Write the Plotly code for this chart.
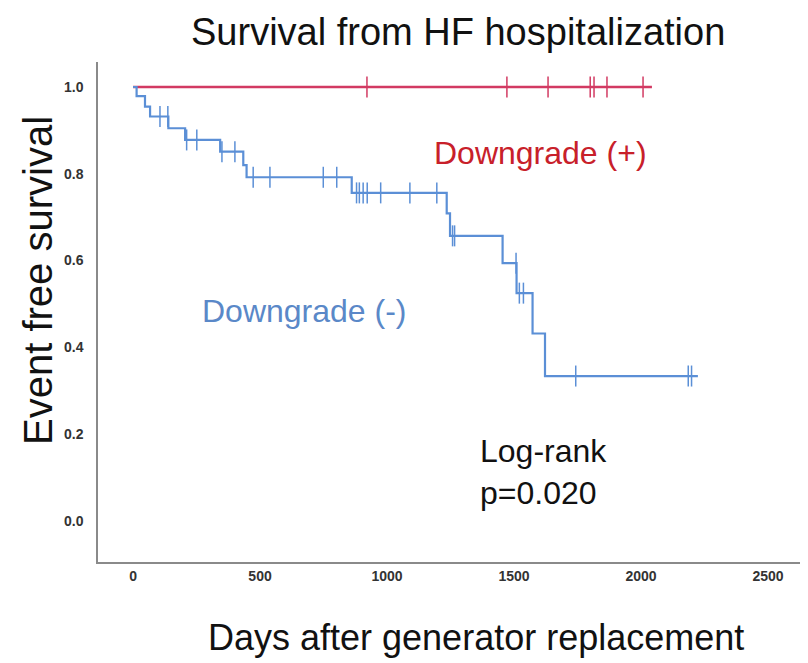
import plotly.graph_objects as go
import numpy as np

# ---- data ----
# Downgrade (-) group: step times (days) and survival after each step
neg_times = [0, 14, 47, 67, 139, 205, 343, 434, 447, 861, 1235, 1248, 1455, 1510, 1573, 1622, 2224]
neg_surv = [1.0, 0.979, 0.955, 0.932, 0.905, 0.878, 0.851, 0.820, 0.792, 0.756, 0.709, 0.657, 0.594, 0.525, 0.432, 0.334, 0.334]
neg_censor = [106, 137, 211, 251, 350, 401, 473, 539, 749, 802, 880, 891, 906, 922, 975, 1090, 1196,
              1258, 1266, 1508, 1521, 1537, 1743, 2186, 2199]

# Downgrade (+) group: no events
pos_times = [0, 2043]
pos_surv = [1.0, 1.0]
pos_censor = [921, 1472, 1634, 1800, 1815, 1866, 2008]

x_ticks = [0, 500, 1000, 1500, 2000, 2500]
y_ticks = [0.0, 0.2, 0.4, 0.6, 0.8, 1.0]

RED = "#d23a62"
BLUE = "#5b8fd6"


def surv_at(t, times, surv):
    idx = np.searchsorted(times, t, side="right") - 1
    return surv[max(idx, 0)]


fig = go.Figure()
fig.add_trace(go.Scatter(x=pos_times, y=pos_surv, mode="lines", line=dict(color=RED, width=2.5, shape="hv"),
                         showlegend=False, hoverinfo="skip"))
fig.add_trace(go.Scatter(x=pos_censor, y=[surv_at(t, pos_times, pos_surv) for t in pos_censor], mode="markers",
                         marker=dict(symbol="line-ns", size=15, line=dict(color=RED, width=1.5)),
                         showlegend=False, hoverinfo="skip"))
fig.add_trace(go.Scatter(x=neg_times, y=neg_surv, mode="lines", line=dict(color=BLUE, width=2.2, shape="hv"),
                         showlegend=False, hoverinfo="skip"))
fig.add_trace(go.Scatter(x=neg_censor, y=[surv_at(t, neg_times, neg_surv) for t in neg_censor], mode="markers",
                         marker=dict(symbol="line-ns", size=15, line=dict(color=BLUE, width=1.5)),
                         showlegend=False, hoverinfo="skip"))

FONT = "Liberation Sans, Arial, sans-serif"

# page has an 8px body margin: figure spans 8..808 x 8..663
fig.update_layout(
    width=800, height=655,
    margin=dict(l=90, r=8, t=54, b=101),
    paper_bgcolor="white", plot_bgcolor="white",
    font=dict(family=FONT, color="#000"),
    xaxis=dict(range=[-138, 2626], tickvals=x_ticks, ticktext=[str(v) for v in x_ticks],
               showgrid=False, zeroline=False, showline=True, linecolor="#8a8a8a", linewidth=1.5,
               ticks="", tickfont=dict(family=FONT, size=14, color="#333", weight="bold")),
    yaxis=dict(range=[-0.0945, 1.0576], tickvals=y_ticks, ticktext=[f"{v:.1f}" for v in y_ticks],
               showgrid=False, zeroline=False, showline=True, linecolor="#8a8a8a", linewidth=1.5,
               ticks="", ticklabelstandoff=10,
               tickfont=dict(family=FONT, size=14, color="#333", weight="bold")),
    annotations=[
        dict(text="Survival from HF hospitalization", xref="paper", yref="paper", x=(458 - 98) / 702,
             y=1 + (62 - 9) / 500, xanchor="center", yanchor="top", showarrow=False,
             font=dict(size=38, color="#111")),
        dict(text="Days after generator replacement", xref="paper", yref="paper", x=(476 - 98) / 702,
             y=-(637 - 562) / 500, xanchor="center", yanchor="middle", showarrow=False,
             font=dict(size=36, color="#111")),
        dict(text="Event free survival", xref="paper", yref="paper", x=-(98 - 38) / 702,
             y=(562 - 281) / 500, xanchor="center", yanchor="middle", showarrow=False, textangle=-90,
             font=dict(size=40, color="#111")),
        dict(text="Downgrade (+)", xref="x", yref="y", x=(540 - 133) / 0.254, y=(521 - 153) / 434,
             xanchor="center", yanchor="middle", showarrow=False, font=dict(size=32, color="#c8202a")),
        dict(text="Downgrade (-)", xref="x", yref="y", x=(304 - 133) / 0.254, y=(521 - 311) / 434,
             xanchor="center", yanchor="middle", showarrow=False, font=dict(size=32, color="#5a88c8")),
        dict(text="Log-rank<br>p=0.020", xref="x", yref="y", x=(478 - 133) / 0.254, y=(521 - 472) / 434,
             xanchor="left", yanchor="middle", align="left", showarrow=False,
             font=dict(size=32, color="#111")),
    ],
)

fig.write_html("out.html")
